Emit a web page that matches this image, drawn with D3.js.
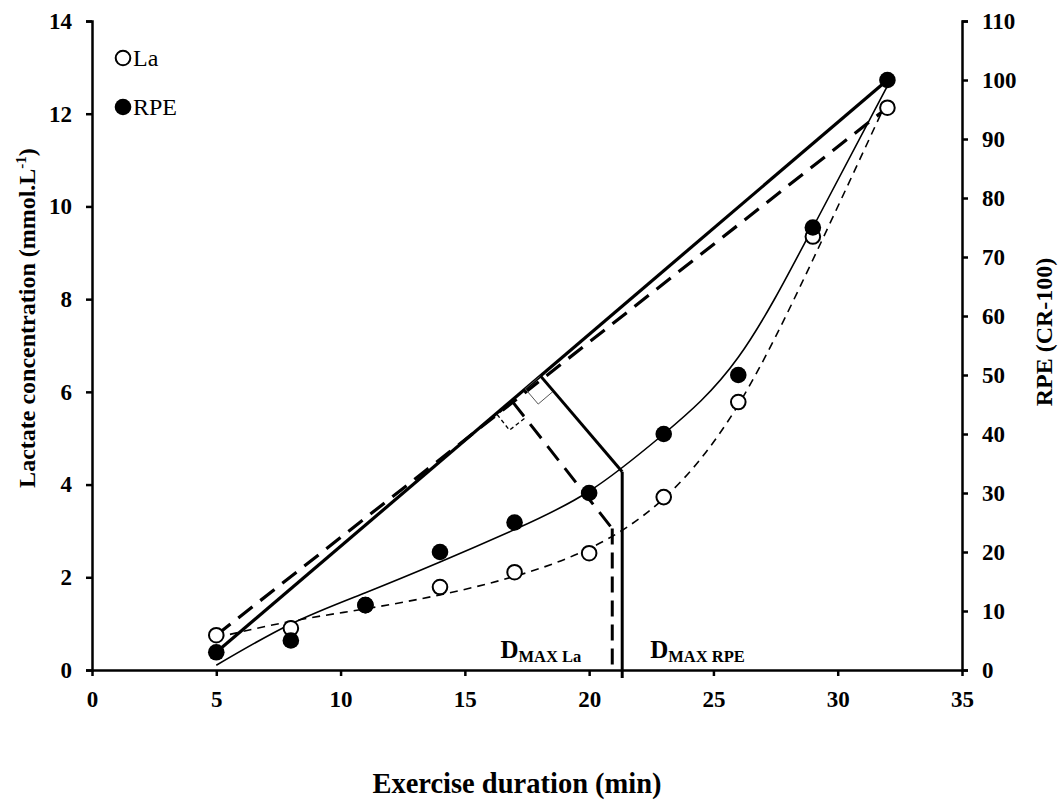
<!DOCTYPE html>
<html>
<head>
<meta charset="utf-8">
<script src="https://cdn.jsdelivr.net/npm/d3@7"></script>
<style>
  body { margin: 0; background: #fff; }
  svg { display: block; }
  text { font-family: "Liberation Serif", "Times New Roman", serif; fill: #000; }
</style>
</head>
<body>
<svg width="1060" height="801"></svg>
<script>
// measured points
const minutes = [5, 8, 11, 14, 17, 20, 23, 26, 29, 32];
const lactate = [0.75, 0.9, 1.4, 1.79, 2.11, 2.52, 3.73, 5.78, 9.35, 12.13];
const rpe = [3, 5, 11, 20, 25, 30, 40, 50, 75, 100];

// trend curves
const lactateFit = [0.7, 1.05, 1.32, 1.62, 2.02, 2.62, 3.7, 5.72, 8.85, 12.3];
const rpeFit = [0.8, 7.8, 13.1, 18.3, 23.8, 30.3, 40.0, 53.0, 75.0, 99.0];

// Dmax points (minute, value on the curve)
const dmaxLa = [20.93, 3.05];
const dmaxRpe = [21.33, 33.6];

const xTicks = [0, 5, 10, 15, 20, 25, 30, 35];
const leftTicks = [0, 2, 4, 6, 8, 10, 12, 14];
const rightTicks = [0, 10, 20, 30, 40, 50, 60, 70, 80, 90, 100, 110];
const legendLabels = ['La', 'RPE'];

const svg = d3.select('svg');

let x = d3.scaleLinear().domain([0, 35]).range([92, 962]);
let yL = d3.scaleLinear().domain([0, 14]).range([670, 21]);
let yR = d3.scaleLinear().domain([0, 110]).range([670, 21]);

// axes
function styleAxis(g) {
  g.selectAll('path, line').attr('stroke', '#000').attr('stroke-width', 2.5);
  g.selectAll('text').attr('font-size', 23).attr('font-weight', 'bold').attr('fill', '#000');
}

svg.append('g')
  .attr('transform', `translate(0,${yL(0)})`)
  .call(d3.axisBottom(x).tickValues(xTicks).tickSize(6).tickSizeOuter(0).tickPadding(15))
  .call(styleAxis);

svg.append('g')
  .attr('transform', `translate(${x(0)},0)`)
  .call(d3.axisLeft(yL).tickValues(leftTicks).tickSize(6).tickSizeOuter(6).tickPadding(14))
  .call(styleAxis);

svg.append('g')
  .attr('transform', `translate(${x(35)},0)`)
  .call(d3.axisRight(yR).tickValues(rightTicks).tickSize(6).tickSizeOuter(6).tickPadding(14))
  .call(styleAxis);

// axis titles
svg.append('text')
  .attr('x', (x(0) + x(35)) / 2 - 10)
  .attr('y', 793)
  .attr('text-anchor', 'middle')
  .attr('font-size', 28.5)
  .attr('font-weight', 'bold')
  .text('Exercise duration (min)');

let leftTitle = svg.append('text')
  .attr('transform', 'translate(35,318) rotate(-90)')
  .attr('text-anchor', 'middle')
  .attr('font-size', 24)
  .attr('font-weight', 'bold');
leftTitle.append('tspan').text('Lactate concentration (mmol.L');
leftTitle.append('tspan').attr('font-size', 15).attr('dy', -9).text('-1');
leftTitle.append('tspan').attr('dy', 9).text(')');

svg.append('text')
  .attr('transform', 'translate(1052,332) rotate(-90)')
  .attr('text-anchor', 'middle')
  .attr('font-size', 24)
  .attr('font-weight', 'bold')
  .text('RPE (CR-100)');

// trend curves
let curveLa = d3.line()
  .x((d, i) => x(minutes[i]))
  .y(d => yL(d))
  .curve(d3.curveNatural);
let curveRpe = d3.line()
  .x((d, i) => x(minutes[i]))
  .y(d => yR(d))
  .curve(d3.curveNatural);

svg.append('path').attr('d', curveLa(lactateFit))
  .attr('fill', 'none').attr('stroke', '#000').attr('stroke-width', 1.6)
  .attr('stroke-dasharray', '8,6');
svg.append('path').attr('d', curveRpe(rpeFit))
  .attr('fill', 'none').attr('stroke', '#000').attr('stroke-width', 1.6);

// first-to-last lines
const n = minutes.length - 1;
let laA = [x(minutes[0]), yL(lactate[0])], laB = [x(minutes[n]), yL(lactate[n])];
let rpA = [x(minutes[0]), yR(rpe[0])], rpB = [x(minutes[n]), yR(rpe[n])];

svg.append('line')
  .attr('x1', laA[0]).attr('y1', laA[1]).attr('x2', laB[0]).attr('y2', laB[1])
  .attr('stroke', '#000').attr('stroke-width', 3.2).attr('stroke-dasharray', '18,10');
svg.append('line')
  .attr('x1', rpA[0]).attr('y1', rpA[1]).attr('x2', rpB[0]).attr('y2', rpB[1])
  .attr('stroke', '#000').attr('stroke-width', 3.2);

// perpendicular from curve point to the straight line
function foot(a, b, p) {
  let len = Math.hypot(b[0] - a[0], b[1] - a[1]);
  let u = [(b[0] - a[0]) / len, (b[1] - a[1]) / len];
  let t = (p[0] - a[0]) * u[0] + (p[1] - a[1]) * u[1];
  return { f: [a[0] + u[0] * t, a[1] + u[1] * t], u: u };
}

function drawDmax(a, b, p, dashed) {
  let r = foot(a, b, p);
  let f = r.f, u = r.u;
  let d = Math.hypot(p[0] - f[0], p[1] - f[1]);
  let nv = [(p[0] - f[0]) / d, (p[1] - f[1]) / d];
  let s = 20;
  let sq = [f, [f[0] + nv[0] * s, f[1] + nv[1] * s],
    [f[0] + nv[0] * s - u[0] * s, f[1] + nv[1] * s - u[1] * s],
    [f[0] - u[0] * s, f[1] - u[1] * s]];
  svg.append('path')
    .attr('d', d3.line()(sq) + 'Z')
    .attr('fill', 'none').attr('stroke', dashed ? '#000' : '#555')
    .attr('stroke-width', dashed ? 1.3 : 1)
    .attr('stroke-dasharray', dashed ? '4,3' : null);
  svg.append('line')
    .attr('x1', f[0]).attr('y1', f[1]).attr('x2', p[0]).attr('y2', p[1])
    .attr('stroke', '#000').attr('stroke-width', 3)
    .attr('stroke-dasharray', dashed ? '18,10' : null);
  svg.append('line')
    .attr('x1', p[0]).attr('y1', p[1]).attr('x2', p[0]).attr('y2', yL(0) + (dashed ? 0 : 8))
    .attr('stroke', '#000').attr('stroke-width', 3)
    .attr('stroke-dasharray', dashed ? '16,8' : null);
}

drawDmax(laA, laB, [x(dmaxLa[0]), yL(dmaxLa[1])], true);
drawDmax(rpA, rpB, [x(dmaxRpe[0]), yR(dmaxRpe[1])], false);

// Dmax labels
function dmaxLabel(xPos, anchor, sub) {
  let t = svg.append('text')
    .attr('x', xPos).attr('y', 658)
    .attr('text-anchor', anchor)
    .attr('font-weight', 'bold')
    .attr('font-size', 25);
  t.append('tspan').text('D');
  t.append('tspan').attr('font-size', 16.5).attr('dy', 4).text(sub);
}
dmaxLabel(x(dmaxLa[0]) - 31, 'end', 'MAX La');
dmaxLabel(x(dmaxRpe[0]) + 28, 'start', 'MAX RPE');

// markers
svg.append('g').selectAll('circle')
  .data(lactate)
  .join('circle')
  .attr('cx', (d, i) => x(minutes[i]))
  .attr('cy', d => yL(d))
  .attr('r', 7.3)
  .attr('fill', '#fff').attr('stroke', '#000').attr('stroke-width', 2);

svg.append('g').selectAll('circle')
  .data(rpe)
  .join('circle')
  .attr('cx', (d, i) => x(minutes[i]))
  .attr('cy', d => yR(d))
  .attr('r', 8.3)
  .attr('fill', '#000');

// legend
let legend = svg.append('g');
legendLabels.forEach((label, i) => {
  let cy = 58 + i * 49;
  legend.append('circle')
    .attr('cx', 123).attr('cy', cy)
    .attr('r', i === 0 ? 7.3 : 8.3)
    .attr('fill', i === 0 ? '#fff' : '#000')
    .attr('stroke', i === 0 ? '#000' : 'none')
    .attr('stroke-width', 2);
  legend.append('text')
    .attr('x', 133).attr('y', cy + 8)
    .attr('font-size', 24)
    .text(label);
});
</script>
</body>
</html>
